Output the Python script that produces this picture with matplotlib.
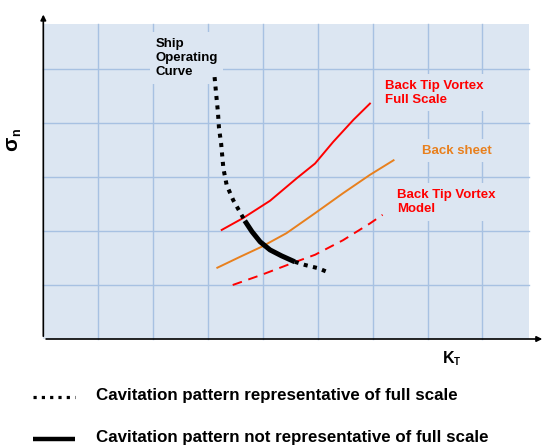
import matplotlib
matplotlib.use("Agg")
import matplotlib.pyplot as plt
from matplotlib.patches import Rectangle

plt.rcParams['font.family'] = ['Liberation Sans', 'DejaVu Sans']

BG = "#DCE6F2"
GRID = "#A7C1E2"
RED = "#FF0000"
ORANGE = "#E8801E"

# curve data (K_T, sigma_n) in grid units
tip_full_x = [3.25, 3.64, 4.13, 4.62, 4.95, 5.28, 5.65, 5.95]
tip_full_y = [2.02, 2.24, 2.56, 2.98, 3.25, 3.65, 4.06, 4.36]
sheet_x = [3.17, 3.58, 3.98, 4.43, 4.95, 5.46, 5.95, 6.38]
sheet_y = [1.32, 1.52, 1.71, 1.96, 2.33, 2.70, 3.04, 3.31]
tip_model_x = [3.45, 3.98, 4.52, 4.95, 5.46, 5.95, 6.18]
tip_model_y = [1.00, 1.19, 1.40, 1.56, 1.83, 2.14, 2.30]
ship_x = [3.12, 3.15, 3.18, 3.20, 3.24, 3.28, 3.34, 3.46, 3.61,
          3.67, 3.80, 3.95, 4.13, 4.34, 4.58, 4.77, 5.01, 5.20]
ship_y = [4.85, 4.52, 4.21, 3.91, 3.61, 3.16, 2.85, 2.57, 2.30,
          2.19, 1.99, 1.80, 1.65, 1.54, 1.43, 1.37, 1.31, 1.23]
solid_start, solid_end = 9, 14

grid_x = [1, 2, 3, 4, 5, 6, 7, 8]
grid_y = [1, 2, 3, 4, 5]

fig = plt.figure(figsize=(5.46, 4.47), dpi=100)
ax = fig.add_axes([0, 0, 1, 1])
ax.set_xlim(-0.789, 9.157)
ax.set_ylim(-2.0, 6.278)
ax.axis('off')

ax.add_patch(Rectangle((0, 0), 8.85, 5.83, facecolor=BG, edgecolor='none', zorder=0))
for gx in grid_x:
    ax.plot([gx, gx], [0, 5.83], color=GRID, lw=1.0, zorder=1)
for gy in grid_y:
    ax.plot([0, 8.85], [gy, gy], color=GRID, lw=1.0, zorder=1)

# axes arrows
ax.annotate('', xy=(0, 6.06), xytext=(0, 0),
            arrowprops=dict(arrowstyle='-|>', color='black', lw=1.2, mutation_scale=8))
ax.annotate('', xy=(9.14, 0), xytext=(0, 0),
            arrowprops=dict(arrowstyle='-|>', color='black', lw=1.2, mutation_scale=8))

dotted = dict(color='black', lw=2.9, dashes=(1.0, 1.35), dash_capstyle='butt', zorder=5)

ax.plot(tip_full_x, tip_full_y, color=RED, lw=1.4, zorder=3)
ax.plot(sheet_x, sheet_y, color=ORANGE, lw=1.4, zorder=3)
ax.plot(tip_model_x, tip_model_y, color=RED, lw=1.4, dashes=(5, 3.5), zorder=3)

ax.plot(ship_x[:solid_start + 1], ship_y[:solid_start + 1], **dotted)
ax.plot(ship_x[solid_start:solid_end + 1], ship_y[solid_start:solid_end + 1],
        color='black', lw=3.6, solid_capstyle='butt', solid_joinstyle='round', zorder=5)
ax.plot(ship_x[solid_end:], ship_y[solid_end:], **dotted)

lbl_box = dict(facecolor=BG, edgecolor='none', pad=4)
ax.text(2.04, 5.58, "Ship\nOperating\nCurve", fontsize=9.5, fontweight='bold',
        va='top', ha='left', linespacing=1.25, bbox=lbl_box, zorder=4)
ax.text(6.22, 4.56, "Back Tip Vortex\nFull Scale", fontsize=9.5, fontweight='bold',
        color=RED, va='center', ha='left', linespacing=1.25, bbox=lbl_box, zorder=4)
ax.text(6.90, 3.49, "Back sheet", fontsize=9.5, fontweight='bold',
        color=ORANGE, va='center', ha='left', bbox=lbl_box, zorder=4)
ax.text(6.44, 2.54, "Back Tip Vortex\nModel", fontsize=9.5, fontweight='bold',
        color=RED, va='center', ha='left', linespacing=1.25, bbox=lbl_box, zorder=4)

# axis titles
ax.text(-0.40, 3.62, "σ", fontsize=15, fontweight='bold', rotation=90,
        ha='right', va='center')
ax.text(-0.37, 3.83, "n", fontsize=9, fontweight='bold', rotation=90,
        ha='right', va='center')
ax.text(7.28, -0.45, "K", fontsize=11.5, fontweight='bold', ha='left', va='baseline')
ax.text(7.47, -0.49, "T", fontsize=7, fontweight='bold', ha='left', va='baseline')

# legend
leg_x = [-0.18, 0.58]
leg_y = [-1.074, -1.852]
leg_text = ["Cavitation pattern representative of full scale",
            "Cavitation pattern not representative of full scale"]
ax.plot(leg_x, [leg_y[0]] * 2, color='black', lw=2.3, dashes=(1.0, 1.6),
        dash_capstyle='butt')
ax.plot(leg_x, [leg_y[1]] * 2, color='black', lw=3.2, solid_capstyle='butt')
for yy, t in zip(leg_y, leg_text):
    ax.text(0.965, yy + 0.02, t, fontsize=12.2, fontweight='bold', ha='left', va='center')

fig.savefig('out.png', dpi=100)
